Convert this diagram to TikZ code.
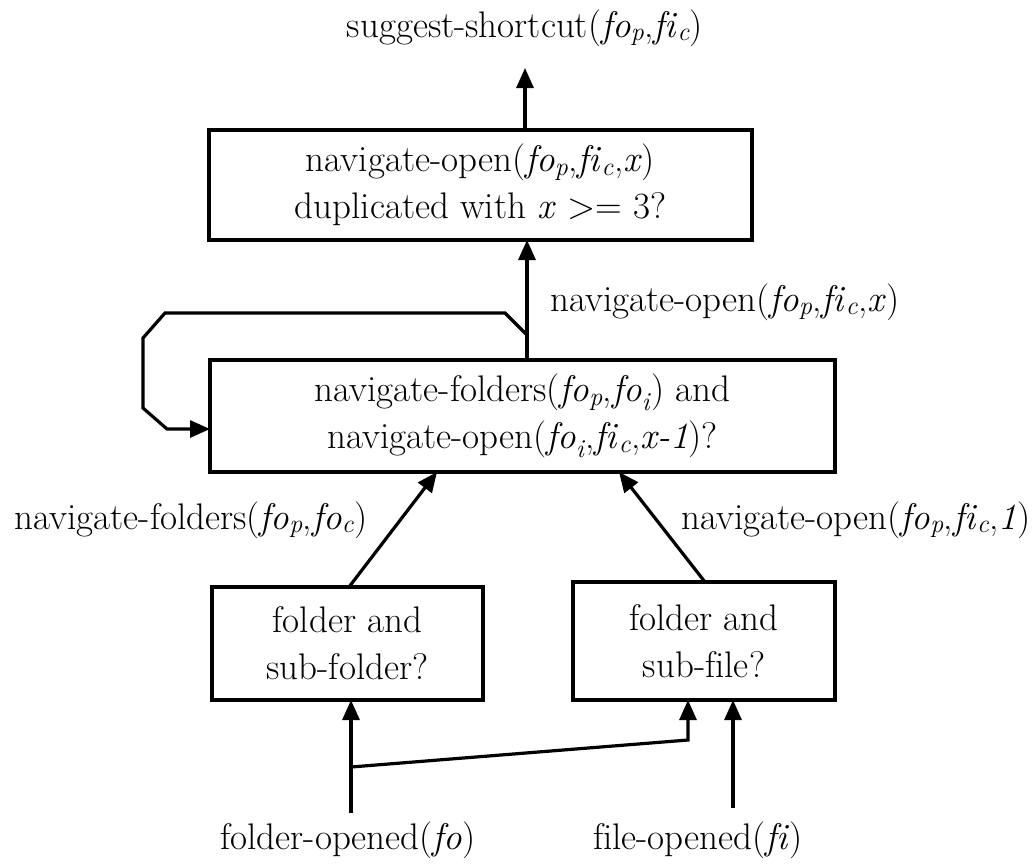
\documentclass[tikz,border=0pt]{standalone}
\usetikzlibrary{arrows.meta}
% italic name with italic subscript, e.g. fo_p
\newcommand\itsub[2]{\textit{#1}\textsubscript{\textit{#2}}}
% f and i set apart, without the fi ligature
\newcommand\fI{f\kern0pt i}
\begin{document}
\begin{tikzpicture}[x=1pt,y=-1pt,
  txt/.style={inner sep=0pt,align=center,font=\fontsize{37}{47}\selectfont},
  box/.style={txt,draw,line width=3.4pt},
  arr/.style={line width=3.2pt,-{Triangle[length=20pt,width=17pt]}}]
\useasboundingbox (0,0) rectangle (1035,865);

% condition boxes
\node[box,minimum width=543pt,minimum height=110pt] (top) at (480.5,185)
  {navigate-open(\itsub{fo}{p},\itsub{\fI}{c},\textit{x})\\duplicated with \textit{x} >= 3?};
\node[box,minimum width=625pt,minimum height=112pt] (mid) at (522.5,416)
  {navigate-folders(\itsub{fo}{p},\itsub{fo}{i}) and\\navigate-open(\itsub{fo}{i},\itsub{\fI}{c},\textit{x-1})?};
\node[box,minimum width=271pt,minimum height=113pt] (lbox) at (347.5,643.5)
  {folder and\\sub-folder?};
\node[box,minimum width=262pt,minimum height=118pt] (rbox) at (704,641)
  {folder and\\sub-\fI le?};

% event and output labels
\node[txt] (out) at (525,28) {suggest-shortcut(\itsub{fo}{p},\itsub{\fI}{c})};
\node[txt,anchor=west] (lnav) at (550,302) {navigate-open(\itsub{fo}{p},\itsub{\fI}{c},\textit{x})};
\node[txt] (lfold) at (191,520) {navigate-folders(\itsub{fo}{p},\itsub{fo}{c})};
\node[txt] (lopen) at (856,520) {navigate-open(\itsub{fo}{p},\itsub{\fI}{c},\textit{1})};
\node[txt] (efo) at (348,840) {folder-opened(\textit{fo})};
\node[txt] (efi) at (698,840) {\fI le-opened(\textit{\fI})};

% connector points
\coordinate (outtip) at (525,68);
\coordinate (m1) at (527,360);
\coordinate (m1t) at (527,240);
\coordinate (loopin) at (210,429);
\coordinate (mlin) at (437,472);
\coordinate (mrin) at (619,472);
\coordinate (lout) at (349,587);
\coordinate (rout) at (705,582);
\coordinate (fo0) at (351,813);
\coordinate (fo1) at (351,700);
\coordinate (fob) at (351,767);
\coordinate (fob2) at (688,740);
\coordinate (fob3) at (688,700);
\coordinate (fi0) at (733,808);
\coordinate (fi1) at (733,700);

% connectors
\draw[arr] (top.north -| outtip) -- (outtip);
\draw[arr] (m1) -- (m1t);
\draw[arr] (m1) -- (527,335) -- (505,313) -- (165,313) -- (143,338)
  -- (143,408) -- (167,429) -- (loopin);
\draw[arr] (lout) -- (mlin);
\draw[arr] (rout) -- (mrin);
\draw[arr] (fo0) -- (fo1);
\draw[arr] (fob) -- (fob2) -- (fob3);
\draw[arr] (fi0) -- (fi1);
\end{tikzpicture}
\end{document}
